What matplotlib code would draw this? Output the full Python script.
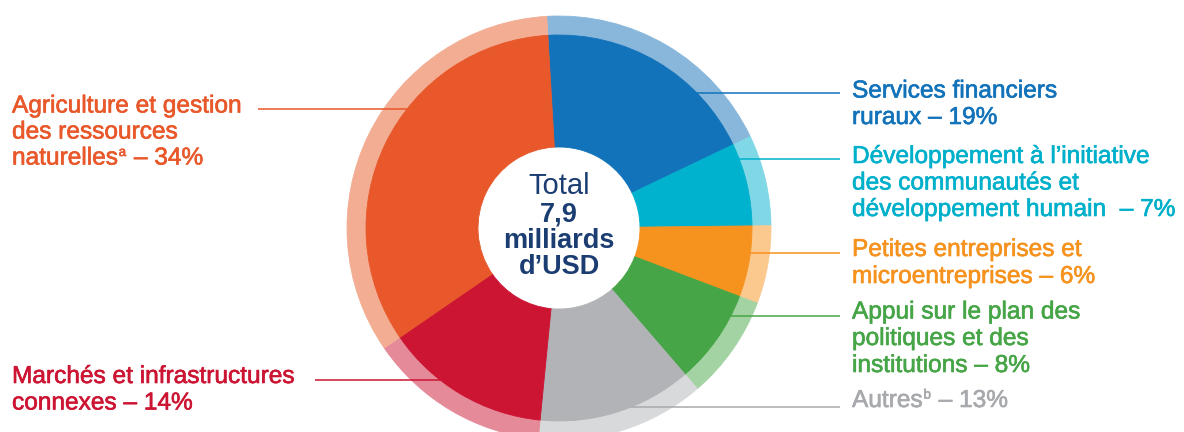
import matplotlib
matplotlib.use("Agg")
import matplotlib.pyplot as plt
import matplotlib.patheffects as pe
import numpy as np

plt.rcParams['font.family'] = ['Liberation Sans', 'DejaVu Sans']

# ---- data ----
categories = ["Services financiers ruraux",
              "Développement à l’initiative des communautés et développement humain",
              "Petites entreprises et microentreprises",
              "Appui sur le plan des politiques et des institutions",
              "Autres",
              "Marchés et infrastructures connexes",
              "Agriculture et gestion des ressources naturelles"]
shares = [19, 7, 6, 8, 13, 14, 34]
inner_colors = ['#1273BA', '#00B2CE', '#F6921E', '#46A546', '#B1B3B6', '#CC1433', '#E8582A']
outer_colors = ['#88B7DB', '#80D7E6', '#FBC98E', '#A3D3A2', '#D8D9DB', '#E58A99', '#F2AD93']
text_colors = ['#1273BA', '#00B0CB', '#F6921E', '#46A546', '#A7A9AC', '#CC1433', '#E8582A']
# each line is a list of (text, is_superscript) runs
label_lines = [
    [[("Services financiers", 0)], [("ruraux – 19%", 0)]],
    [[("Développement à l’initiative", 0)], [("des communautés et", 0)],
     [("développement humain  – 7%", 0)]],
    [[("Petites entreprises et", 0)], [("microentreprises – 6%", 0)]],
    [[("Appui sur le plan des", 0)], [("politiques et des", 0)], [("institutions – 8%", 0)]],
    [[("Autres", 0), ("b", 1), (" – 13%", 0)]],
    [[("Marchés et infrastructures", 0)], [("connexes – 14%", 0)]],
    [[("Agriculture et gestion", 0)], [("des ressources", 0)],
     [("naturelles", 0), ("a", 1), (" – 34%", 0)]],
]
center_title = "Total"
center_value = ["7,9", "milliards", "d’USD"]

# ---- layout (pixel coordinates, y from top) ----
W, H = 1184, 432
cx, cy = 559, 228
r_outer, r_inner, r_hole = 212, 193, 81
sides = ['R', 'R', 'R', 'R', 'R', 'L', 'L']
text_x = [852, 852, 852, 852, 852, 12, 12]
baselines = [[97.5, 124], [163, 189.5, 216], [256, 283], [318.5, 345, 372], [407],
             [383, 409.5], [112.5, 138.5, 164.5]]
leader_y = [93, 159, 253, 316, 407, 380, 109]
leader_start = [840, 840, 840, 840, 840, 315, 258]
FS = 17.6

fig = plt.figure(figsize=(W / 100, H / 100), dpi=100)
ax = fig.add_axes([0, 0, 1, 1])

def Y(y):
    return H - y

w_out, _ = ax.pie(shares, colors=outer_colors, radius=r_outer, center=(cx, Y(cy)),
                  startangle=93.3, counterclock=False,
                  wedgeprops=dict(width=r_outer - r_inner + 1, linewidth=0.6))
w_in, _ = ax.pie(shares, colors=inner_colors, radius=r_inner, center=(cx, Y(cy)),
                 startangle=93.3, counterclock=False,
                 wedgeprops=dict(width=r_inner - r_hole, linewidth=0.6))
for w in list(w_out) + list(w_in):
    w.set_edgecolor(w.get_facecolor())
ax.set_xlim(0, W)
ax.set_ylim(0, H)
ax.axis('off')

renderer = fig.canvas.get_renderer()

# center text
navy = '#1B3D72'
ax.text(cx, Y(193.5), center_title, ha='center', va='baseline', fontsize=21,
        color=navy)
for t, b in zip(center_value, [221, 247.5, 274]):
    ax.text(cx, Y(b), t, ha='center', va='baseline', fontsize=19.5,
            fontweight='bold', color=navy)

# labels + leader lines
for i in range(len(shares)):
    col = text_colors[i]
    fx = [pe.withStroke(linewidth=0.45, foreground=col)]
    for runs, b in zip(label_lines[i], baselines[i]):
        x = text_x[i]
        for txt, sup in runs:
            if sup:
                t = ax.text(x + 1, Y(b - 8.5), txt, ha='left', va='baseline',
                            fontsize=FS * 0.55, color=col, path_effects=fx)
            else:
                t = ax.text(x, Y(b), txt, ha='left', va='baseline', fontsize=FS,
                            color=col, path_effects=fx)
            bb = t.get_window_extent(renderer)
            x = bb.x1 + (1 if sup else 0)
    ly = leader_y[i]
    dx = np.sqrt(max(r_inner ** 2 - (ly - cy) ** 2, 0))
    end_x = cx + dx if sides[i] == 'R' else cx - dx
    ax.plot([leader_start[i], end_x], [Y(ly), Y(ly)], color=col, lw=1.1,
            solid_capstyle='butt')

fig.savefig('out.png', dpi=100)
